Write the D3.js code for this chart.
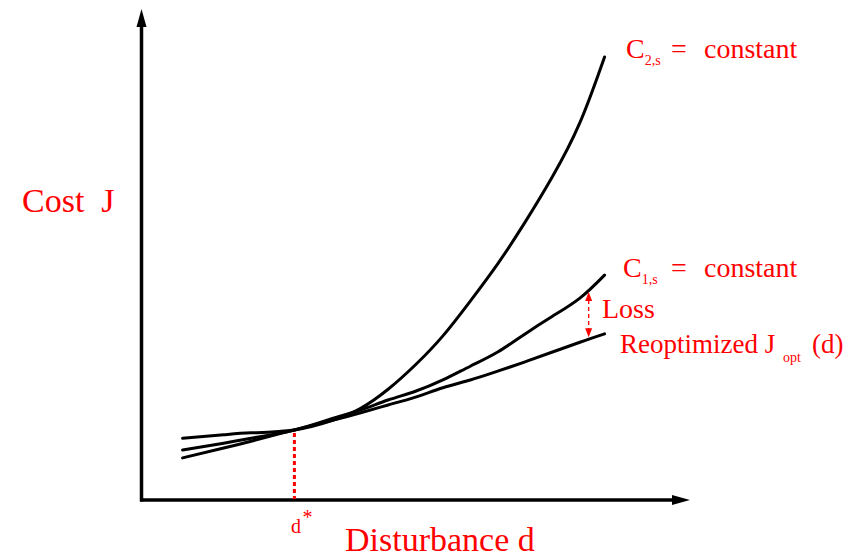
<!DOCTYPE html>
<html>
<head>
<meta charset="utf-8">
<script src="https://cdn.jsdelivr.net/npm/d3@7"></script>
<style>
  html, body { margin: 0; padding: 0; background: #fff; }
  svg { display: block; }
  text { font-family: "Liberation Serif", "Times New Roman", serif; fill: #ff0000; white-space: pre; }
</style>
</head>
<body>
<svg id="chart" width="857" height="556"></svg>
<script>
// ---- data (disturbance d, cost J in arbitrary units) ----
const disturbance = [7.5, 15, 20, 27.9, 35, 40, 45, 50, 55, 60, 65, 70, 75, 80, 84.5];
const costC2 = [12.6, 13.3, 13.7, 14.3, 16.3, 18.7, 22.6, 27.6, 33.5, 40.6, 48.2, 56.7, 66.0, 77.0, 90.4];
const costC1 = [10.2, 11.6, 12.6, 14.3, 16.7, 18.4, 20.4, 22.2, 24.5, 27.3, 30.2, 33.9, 37.5, 41.2, 45.9];
const costOpt = [8.6, 10.6, 12.0, 14.3, 16.3, 17.8, 19.4, 21.0, 22.9, 24.5, 26.3, 28.2, 30.2, 32.2, 33.9];
const dStar = 27.9;
const dLoss = 81.6;
const labels = {
  yAxis: "Cost  J",
  xAxis: "Disturbance d",
  dStar: "d",
  c2: ["C", "2,s", "=", "constant"],
  c1: ["C", "1,s", "=", "constant"],
  loss: "Loss",
  opt: ["Reoptimized J", "opt", "(d)"]
};

const svg = d3.select("#chart");
const x = d3.scaleLinear().domain([0, 100]).range([141.5, 689.5]);
const y = d3.scaleLinear().domain([0, 100]).range([500, 10]);

// ---- axes with arrowheads ----
const ax = svg.append("g");
ax.append("line").attr("x1", x(0)).attr("y1", y(0) + 1.5).attr("x2", x(0)).attr("y2", 22)
  .attr("stroke", "#000").attr("stroke-width", 3.5);
ax.append("path").attr("d", `M${x(0)},9 L${x(0) - 5},27 L${x(0) + 5},27 Z`).attr("fill", "#000");
ax.append("line").attr("x1", x(0) - 1.5).attr("y1", y(0)).attr("x2", 677).attr("y2", y(0))
  .attr("stroke", "#000").attr("stroke-width", 3.5);
ax.append("path").attr("d", `M690,${y(0)} L672,${y(0) - 5} L672,${y(0) + 5} Z`).attr("fill", "#000");

// ---- curves ----
const line = d3.line().x(d => x(d[0])).y(d => y(d[1])).curve(d3.curveNatural);
[costC2, costC1, costOpt].forEach(series => {
  svg.append("path")
    .attr("d", line(disturbance.map((d, i) => [d, series[i]])))
    .attr("fill", "none").attr("stroke", "#000").attr("stroke-width", 3)
    .attr("stroke-linecap", "round");
});

// ---- d* dotted line ----
const interp = (series, d) => {
  const i = d3.bisectRight(disturbance, d) - 1;
  const t = (d - disturbance[i]) / (disturbance[i + 1] - disturbance[i]);
  return series[i] + t * (series[i + 1] - series[i]);
};
svg.append("line")
  .attr("x1", x(dStar)).attr("x2", x(dStar))
  .attr("y1", y(interp(costOpt, dStar)) + 3).attr("y2", y(0) - 1)
  .attr("stroke", "#ff0000").attr("stroke-width", 3).attr("stroke-dasharray", "4,3");

// ---- Loss arrow ----
const lx = x(dLoss);
const ly1 = y(interp(costC1, dLoss)) + 2;
const ly2 = y(interp(costOpt, dLoss)) - 2;
svg.append("line").attr("x1", lx).attr("x2", lx).attr("y1", ly1 + 8).attr("y2", ly2 - 8)
  .attr("stroke", "#ff0000").attr("stroke-width", 1.3).attr("stroke-dasharray", "4,3");
svg.append("path").attr("d", `M${lx},${ly1} L${lx - 3.5},${ly1 + 9} L${lx + 3.5},${ly1 + 9} Z`).attr("fill", "#ff0000");
svg.append("path").attr("d", `M${lx},${ly2} L${lx - 3.5},${ly2 - 9} L${lx + 3.5},${ly2 - 9} Z`).attr("fill", "#ff0000");

// ---- text ----
svg.append("text").attr("x", 22).attr("y", 212).attr("font-size", 34).text(labels.yAxis);
svg.append("text").attr("x", 345).attr("y", 551).attr("font-size", 34).text(labels.xAxis);

const ds = svg.append("text").attr("x", 291).attr("y", 533).attr("font-size", 20);
ds.append("tspan").text(labels.dStar);
ds.append("tspan").attr("x", 302.5).attr("y", 524).attr("font-size", 20).text("*");

function cLabel(parts, xs, baseline) {
  const t = svg.append("text").attr("y", baseline).attr("font-size", 28);
  t.append("tspan").attr("x", xs).text(parts[0]);
  t.append("tspan").attr("dy", 7).attr("font-size", 14).text(parts[1]);
  t.append("tspan").attr("x", 671).attr("y", baseline).text(parts[2]);
  t.append("tspan").attr("x", 704).attr("y", baseline).text(parts[3]);
}
cLabel(labels.c2, 626, 58);
cLabel(labels.c1, 623, 277);

svg.append("text").attr("x", 602).attr("y", 318).attr("font-size", 28).text(labels.loss);

const ot = svg.append("text").attr("y", 353).attr("font-size", 27);
ot.append("tspan").attr("x", 620).text(labels.opt[0]);
ot.append("tspan").attr("x", 783).attr("y", 362).attr("font-size", 14).text(labels.opt[1]);
ot.append("tspan").attr("x", 812).attr("y", 353).text(labels.opt[2]);
</script>
</body>
</html>
